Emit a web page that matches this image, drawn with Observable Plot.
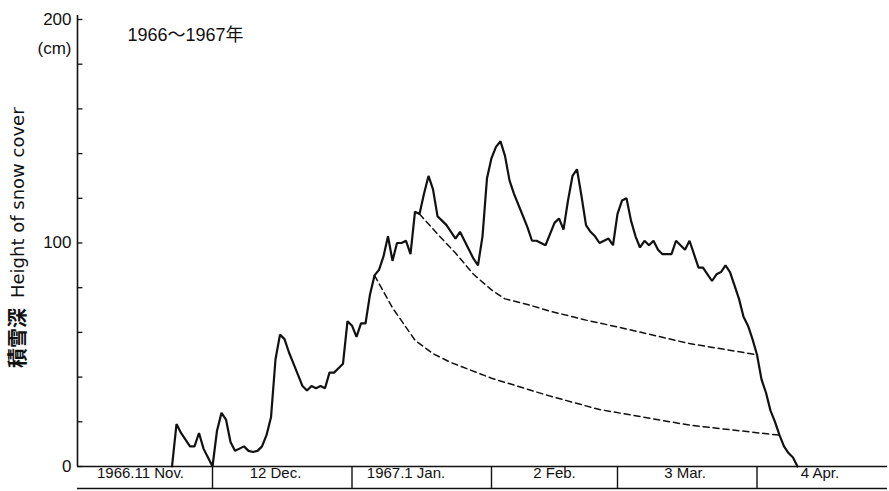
<!DOCTYPE html>
<html>
<head>
<meta charset="utf-8">
<script src="https://cdn.jsdelivr.net/npm/d3@7"></script>
<script src="https://cdn.jsdelivr.net/npm/@observablehq/plot@0.6"></script>
<style>
  html, body { margin: 0; padding: 0; background: #fff; }
  #chart svg { display: block; }
</style>
</head>
<body>
<div id="chart"></div>
<script>
// ---- data (days counted from 1966-11-01) ----
const startDate = "1966-11-01";
const endDate = "1967-04-30";

const snowDay = [21,22,23,24,25,26,27,28,29,30,
  31,32,33,34,35,36,37,38,39,40,41,42,43,44,45,46,47,48,49,50,
  51,52,53,54,55,56,57,58,59,60,61,62,63,64,65,66,67,68,69,70,
  71,72,73,74,75,76,77,78,79,80,81,82,83,84,85,86,87,88,89,90,
  91,92,93,94,95,96,97,98,99,100,101,102,103,104,105,106,107,108,109,110,
  111,112,113,114,115,116,117,118,119,120,121,122,123,124,125,126,127,128,129,130,
  131,132,133,134,135,136,137,138,139,140,141,142,143,144,145,146,147,148,149,150,
  151,152,153,154,155,156,157,158,159,160];
const snowDepth = [0,19,15,12,9,9,15,8,4,0,
  16,24,21,11,7,8,9,7,6.5,7,9,14,22,48,59,57,51,46,41,36,
  34,36,35,36,35,42,42,44,46,65,63,58,64,64,77,85.5,88,94,103,92,
  100,100,101,95,114,113,122,130,124,112,110,108,105,102,105,101,97,93,90,103,
  129,138,143,145.5,139,128,122,117,112,107,101,101,100,99,104,109,111,106,119,130,
  133,121,108,105,103,100,101,102,99,113,119,120,110,103,98,101,99,101,97,95,
  95,95,101,99,97,101,95,89,89,86,83,86,87,90,87,81,75,67,63,57,
  50,39,33,25,20,14,9,6,4,0];

const upperDay = [76,80,84,88,92,95,100,105,113,121,136,151];
const upperDepth = [113,104,95.5,86,79,75,72.5,69.5,65.5,62,55,50];

const lowerDay = [66,70,75,79,83,92,105,116,136,156];
const lowerDepth = [85.5,71,56.5,50.5,46.5,39.5,31.5,25.5,18.5,14];

const monthStarts = ["1966-12-01","1967-01-01","1967-02-01","1967-03-01","1967-04-01"];
const monthLabelDates = ["1966-11-15","1966-12-15","1967-01-13","1967-02-15","1967-03-16","1967-04-15"];
const monthLabels = ["1966.11 Nov.","12 Dec.","1967.1 Jan.","2 Feb.","3 Mar.","4 Apr."];

const yTicks = [0,20,40,60,80,100,120,140,160,180,200];
const yLabelTicks = [0,100,200];
const yUnit = "(cm)";
const titleText = "1966～1967年";
const yLabelJa = "積雪深";
const yLabelEn = "Height of snow cover";

// ---- build ----
const parse = s => new Date(s + "T00:00:00Z");
const t0 = parse(startDate);
const dayToDate = d => new Date(t0.getTime() + d * 86400000);

const snow = snowDay.map((d, i) => ({date: dayToDate(d), v: snowDepth[i]}));
const upper = upperDay.map((d, i) => ({date: dayToDate(d), v: upperDepth[i]}));
const lower = lowerDay.map((d, i) => ({date: dayToDate(d), v: lowerDepth[i]}));

const ink = "#111";
const fontFam = "'Liberation Sans', Arial, 'Noto Sans CJK JP', sans-serif";

const chart = Plot.plot({
  width: 889,
  height: 491,
  marginLeft: 77,
  marginRight: 2,
  marginTop: 19,
  marginBottom: 25,
  style: {fontFamily: fontFam, fontSize: "15px", color: ink, background: "#fff"},
  x: {type: "utc", domain: [t0, parse(endDate)]},
  y: {domain: [0, 200]},
  marks: [
    // y axis line
    Plot.ruleX([t0], {stroke: ink, strokeWidth: 1.6, insetTop: -4}),
    // inward ticks every 20 (about one day long)
    Plot.ruleY(yTicks, {y: d => d, x1: t0, x2: dayToDate(1.2), stroke: ink, strokeWidth: 1.3}),
    // labelled ticks
    Plot.axisY({ticks: yLabelTicks, tickSize: 0, tickPadding: 6, fontSize: 17, fill: ink, label: null}),
    Plot.text([yUnit], {frameAnchor: "top-left", dx: -6, dy: 22, textAnchor: "end", fontSize: 17, fill: ink}),
    // y label (rotated)
    Plot.text([yLabelEn], {frameAnchor: "left", dx: -59, dy: 55, rotate: -90, textAnchor: "start", fontSize: 18, fontFamily: "'DejaVu Sans', sans-serif", fill: ink}),
    Plot.text([yLabelJa], {frameAnchor: "left", dx: -59, dy: 125, rotate: -90, textAnchor: "start", fontSize: 20, fontWeight: "bold", fill: ink}),
    // title
    Plot.text([titleText], {frameAnchor: "top-left", dx: 50, dy: 9, textAnchor: "start", fontSize: 18, fill: ink}),
    // month boxes
    Plot.ruleY([0], {stroke: ink, strokeWidth: 1.6}),
    Plot.ruleY([0], {stroke: ink, strokeWidth: 1.6, dy: 22}),
    Plot.axisX({ticks: monthStarts.map(parse), tickSize: 22, tickFormat: () => "", stroke: ink, strokeWidth: 1.4, label: null}),
    Plot.text(monthLabelDates, {x: d => parse(d), frameAnchor: "bottom", dy: 11, text: (d, i) => monthLabels[i], fontSize: 15, fill: ink}),
    // dashed decay curves
    Plot.line(upper, {x: "date", y: "v", stroke: ink, strokeWidth: 1.5, strokeDasharray: "6,4"}),
    Plot.line(lower, {x: "date", y: "v", stroke: ink, strokeWidth: 1.5, strokeDasharray: "6,4"}),
    // snow depth
    Plot.line(snow, {x: "date", y: "v", stroke: ink, strokeWidth: 2.2, strokeLinejoin: "miter"})
  ]
});

document.getElementById("chart").appendChild(chart);
</script>
</body>
</html>
